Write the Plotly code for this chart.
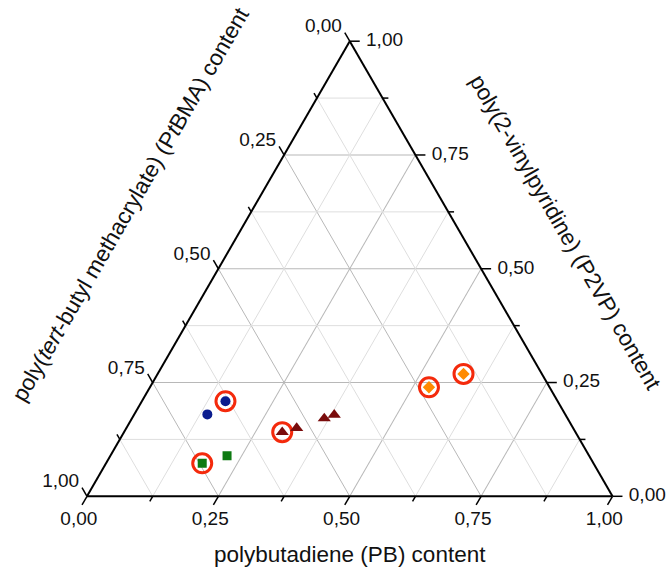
import math
import plotly.graph_objects as go

# Sample compositions (mass fractions): P2VP, PtBMA, PB
circle_p2vp = [0.180, 0.209]
circle_ptbma = [0.681, 0.632]
circle_pb = [0.139, 0.159]

square_p2vp = [0.0725, 0.089]
square_ptbma = [0.7445, 0.689]
square_pb = [0.183, 0.222]

triangle_p2vp = [0.141, 0.150, 0.171, 0.179]
triangle_ptbma = [0.558, 0.526, 0.463, 0.440]
triangle_pb = [0.301, 0.324, 0.366, 0.381]

diamond_p2vp = [0.2395, 0.269]
diamond_ptbma = [0.2295, 0.149]
diamond_pb = [0.531, 0.582]

# samples marked with a ring (series, index)
ringed = [("circle", 1), ("square", 0), ("triangle", 0), ("diamond", 0), ("diamond", 1)]

tick_values = [0.0, 0.25, 0.5, 0.75, 1.0]
tick_labels = ["0,00", "0,25", "0,50", "0,75", "1,00"]
minor_values = [0.125, 0.375, 0.625, 0.875]

series = {
    "circle": (circle_p2vp, circle_ptbma, circle_pb, "circle", "#0b1c8e", 10),
    "square": (square_p2vp, square_ptbma, square_pb, "square", "#0d7a12", 9),
    "triangle": (triangle_p2vp, triangle_ptbma, triangle_pb, "triangle-up", "#7a0c0c", 11.5),
    "diamond": (diamond_p2vp, diamond_ptbma, diamond_pb, "diamond", "#ff8a00", 9.5),
}

FONT = "Liberation Sans, Arial, sans-serif"
W, H = 667, 567
# triangle placement on the page (pixels): left corner, side length
X0, Y0, SIDE = 87.0, 496.3, 525.5
HEIGHT = SIDE * math.sqrt(3) / 2

fig = go.Figure()

# light minor grid at 0.125 steps, in all three directions
ga, gb, gc = [], [], []
for v in minor_values:
    ga += [v, v, None]; gb += [1 - v, 0, None]; gc += [0, 1 - v, None]          # const P2VP
    ga += [1 - v, 0, None]; gb += [v, v, None]; gc += [0, 1 - v, None]          # const PtBMA
    ga += [1 - v, 0, None]; gb += [0, 1 - v, None]; gc += [v, v, None]          # const PB
fig.add_trace(go.Scatterternary(a=ga, b=gb, c=gc, mode="lines",
                                line=dict(color="#dedede", width=1),
                                hoverinfo="skip", showlegend=False))

# rings around highlighted samples
ring_a = [series[s][0][i] for s, i in ringed]
ring_b = [series[s][1][i] for s, i in ringed]
ring_c = [series[s][2][i] for s, i in ringed]
fig.add_trace(go.Scatterternary(a=ring_a, b=ring_b, c=ring_c, mode="markers",
                                marker=dict(symbol="circle-open", size=19, color="#f42a0c",
                                            line=dict(color="#f42a0c", width=3)),
                                hoverinfo="skip", showlegend=False))

for name, (a, b, c, sym, col, size) in series.items():
    fig.add_trace(go.Scatterternary(a=a, b=b, c=c, mode="markers", name=name,
                                    marker=dict(symbol=sym, size=size, color=col,
                                                line=dict(width=0)),
                                    showlegend=False))


# Ticks and tick labels sit outside the triangle, so they go on an overlay
# cartesian plane using the same projection: x = PB + P2VP/2, y = P2VP*sqrt(3)/2
def project(a, b, c):
    return c + a / 2, a * math.sqrt(3) / 2


# edge position and outward tick direction for each labelled side
def side_point(side, v, d):
    if side == "left":      # PtBMA, 0 at the top, 1 at bottom-left
        return 1 - v + d, v, -d
    if side == "bottom":    # PB, 0 at bottom-left, 1 at bottom-right
        return -d, 1 - v + d, v
    return v, -d, 1 - v + d  # right: P2VP, 0 at bottom-right, 1 at the top


tx, ty = [], []
for side in ("left", "bottom", "right"):
    for v in tick_values + minor_values:
        length = 0.019 if v in tick_values else 0.011
        x0, y0 = project(*side_point(side, v, 0))
        x1, y1 = project(*side_point(side, v, length))
        tx += [x0, x1, None]; ty += [y0, y1, None]
fig.add_trace(go.Scatter(x=tx, y=ty, mode="lines", line=dict(color="black", width=1.5),
                         cliponaxis=False, hoverinfo="skip", showlegend=False))

label_pos = {"left": (0.030, "middle left"), "bottom": (0.031, "bottom center"),
             "right": (0.031, "middle right")}
for side, (d, pos) in label_pos.items():
    pts = [project(*side_point(side, v, d)) for v in tick_values]
    fig.add_trace(go.Scatter(
        x=[p[0] for p in pts], y=[p[1] for p in pts],
        mode="text", text=tick_labels, textposition=pos,
        textfont=dict(family=FONT, size=19, color="#111111"),
        cliponaxis=False, hoverinfo="skip", showlegend=False))

axis_style = dict(tickvals=[0.25, 0.5, 0.75], showticklabels=False, ticks="",
                  showgrid=True, gridcolor="#b8b8b8", gridwidth=1,
                  showline=True, linecolor="black", linewidth=2,
                  title=dict(text=""))

fig.update_layout(
    width=W, height=H,
    margin=dict(l=0, r=0, t=0, b=0),
    paper_bgcolor="white",
    plot_bgcolor="rgba(0,0,0,0)",
    showlegend=False,
    ternary=dict(
        sum=1,
        bgcolor="white",
        domain=dict(x=[X0 / W, (X0 + SIDE) / W], y=[(H - Y0) / H, (H - Y0 + HEIGHT) / H]),
        aaxis=axis_style, baxis=axis_style, caxis=axis_style,
    ),
    xaxis=dict(visible=False, domain=[0, 1], range=[-X0 / SIDE, (W - X0) / SIDE]),
    yaxis=dict(visible=False, domain=[0, 1], range=[-(H - Y0) / SIDE, Y0 / SIDE]),
    font=dict(family=FONT, color="#111111"),
)

title_font = dict(family=FONT, size=22.5, color="#111111")
fig.add_annotation(x=350 / W, y=1 - 554 / H, xref="paper", yref="paper",
                   xanchor="center", yanchor="middle",
                   text="polybutadiene (PB) content", showarrow=False, font=title_font)
fig.add_annotation(x=131 / W, y=1 - 205 / H, xref="paper", yref="paper", textangle=-60,
                   xanchor="center", yanchor="middle",
                   text="poly(<i>tert</i>-butyl methacrylate) (P<i>t</i>BMA) content",
                   showarrow=False, font=title_font)
fig.add_annotation(x=565 / W, y=1 - 233 / H, xref="paper", yref="paper", textangle=60,
                   xanchor="center", yanchor="middle",
                   text="poly(2-vinylpyridine) (P2VP) content",
                   showarrow=False, font=title_font)

fig.write_html("out.html")
